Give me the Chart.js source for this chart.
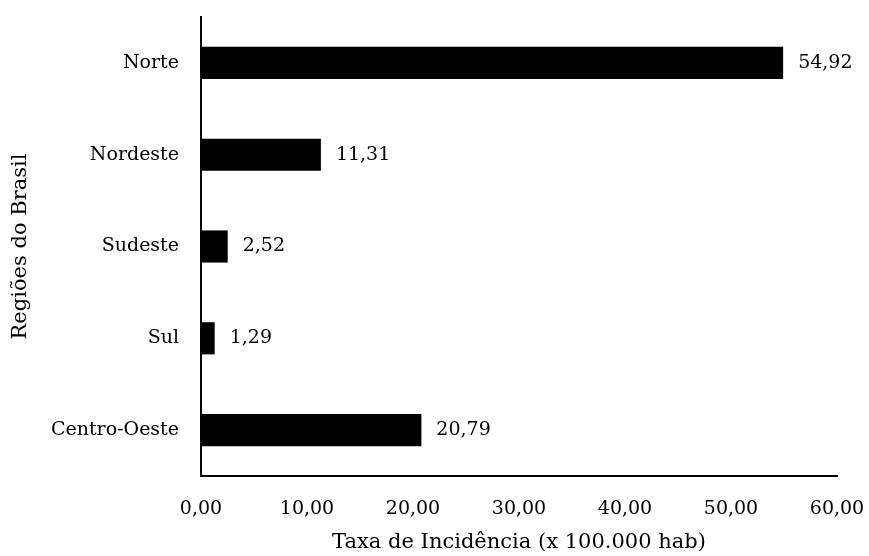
<!DOCTYPE html>
<html>
<head>
<meta charset="utf-8">
<script src="https://cdn.jsdelivr.net/npm/chart.js@4/dist/chart.umd.min.js"></script>
<style>
  html, body { margin: 0; padding: 0; background: #fff; }
  #wrap { width: 869px; height: 556px; position: relative; }
</style>
</head>
<body>
<div id="wrap"><canvas id="c" width="869" height="556"></canvas></div>
<script>
// Taxa de incidência por região (x 100.000 hab)
const regioes = ['Norte', 'Nordeste', 'Sudeste', 'Sul', 'Centro-Oeste'];
const taxas = [54.92, 11.31, 2.52, 1.29, 20.79];
const xTicks = [0, 10, 20, 30, 40, 50, 60];

const FONT = "'DejaVu Serif', 'Liberation Serif', serif";
const fmt = v => v.toFixed(2).replace('.', ',');

// value labels to the right of each bar
const valueLabels = {
  id: 'valueLabels',
  afterDatasetsDraw(chart) {
    const ctx = chart.ctx;
    const meta = chart.getDatasetMeta(0);
    ctx.save();
    ctx.font = '19px ' + FONT;
    ctx.fillStyle = '#000';
    ctx.textAlign = 'left';
    ctx.textBaseline = 'middle';
    meta.data.forEach((bar, i) => {
      ctx.fillText(fmt(taxas[i]), bar.x + 15, bar.y);
    });
    ctx.restore();
  }
};

new Chart(document.getElementById('c'), {
  type: 'bar',
  data: {
    labels: regioes,
    datasets: [{
      data: taxas,
      backgroundColor: '#000',
      borderWidth: 0,
      categoryPercentage: 1,
      barPercentage: 0.35
    }]
  },
  options: {
    indexAxis: 'y',
    responsive: false,
    animation: false,
    devicePixelRatio: 1,
    layout: { padding: { left: 8, right: 32, top: 17, bottom: 1 } },
    plugins: { legend: { display: false }, tooltip: { enabled: false } },
    scales: {
      x: {
        min: 0, max: 60,
        afterBuildTicks(scale) { scale.ticks = xTicks.map(v => ({ value: v })); },
        grid: { display: false, drawTicks: false },
        border: { display: true, color: '#000', width: 2 },
        ticks: {
          color: '#000', padding: 22,
          font: { family: FONT, size: 19 },
          callback: v => fmt(v)
        },
        title: {
          display: true, text: 'Taxa de Incidência (x 100.000 hab)',
          color: '#000', font: { family: FONT, size: 21 },
          padding: { top: 4, bottom: 0 }
        },
        afterFit(scale) {
          scale.height = 556 - 476 - 1;
          scale.paddingLeft = 0;
          scale.paddingRight = 0;
        }
      },
      y: {
        grid: { display: false, drawTicks: false },
        border: { display: true, color: '#000', width: 2 },
        ticks: {
          color: '#000', padding: 22,
          font: { family: FONT, size: 19 }
        },
        title: {
          display: true, text: 'Regiões do Brasil',
          color: '#000', font: { family: FONT, size: 21 },
          padding: { top: 0, bottom: 0 }
        },
        afterFit(scale) {
          scale.width = 201 - 8;
          scale.paddingTop = 0;
          scale.paddingBottom = 0;
        }
      }
    }
  },
  plugins: [valueLabels]
});
</script>
</body>
</html>
